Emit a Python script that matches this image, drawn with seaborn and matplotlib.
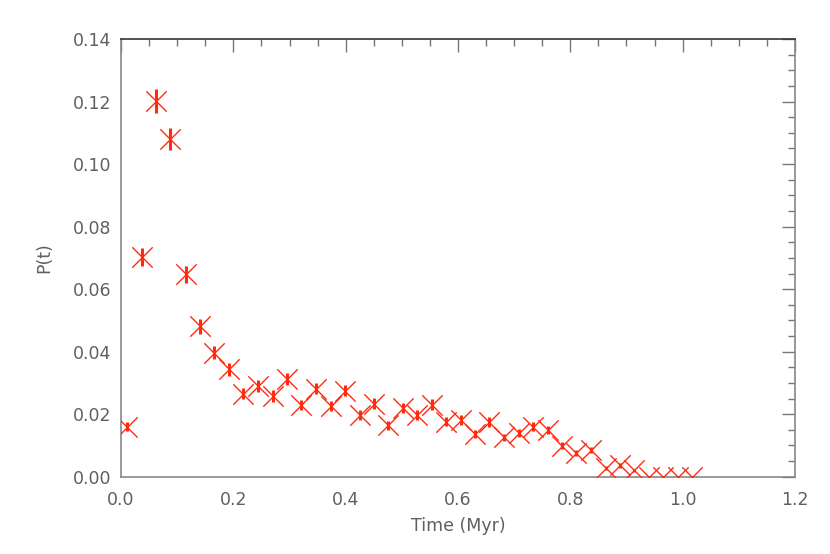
import matplotlib
matplotlib.use("Agg")
import matplotlib.pyplot as plt
import seaborn as sns
import pandas as pd
from matplotlib.ticker import MultipleLocator, FormatStrFormatter

# data
time_myr = [0.011, 0.037, 0.063, 0.088, 0.115, 0.141, 0.166, 0.193, 0.218, 0.244,
            0.270, 0.296, 0.321, 0.347, 0.373, 0.399, 0.425, 0.450, 0.476, 0.502,
            0.527, 0.553, 0.579, 0.605, 0.630, 0.656, 0.682, 0.708, 0.734, 0.760,
            0.785, 0.811, 0.837, 0.864, 0.889, 0.914, 0.940, 0.965, 0.992, 1.017]
prob = [0.0160, 0.0702, 0.1203, 0.1080, 0.0647, 0.0482, 0.0397, 0.0343, 0.0266, 0.0290,
        0.0258, 0.0312, 0.0229, 0.0282, 0.0226, 0.0275, 0.0199, 0.0234, 0.0165, 0.0220,
        0.0197, 0.0231, 0.0176, 0.0181, 0.0136, 0.0175, 0.0126, 0.0141, 0.0160, 0.0149,
        0.0099, 0.0075, 0.0085, 0.0029, 0.0036, 0.0020, 0.0, 0.0, 0.0, 0.0]
prob_err = [0.0014, 0.0029, 0.0038, 0.0036, 0.0028, 0.0024, 0.0022, 0.0020, 0.0018, 0.0019,
            0.0018, 0.0019, 0.0017, 0.0018, 0.0017, 0.0018, 0.0016, 0.0017, 0.0014, 0.0016,
            0.0015, 0.0017, 0.0015, 0.0015, 0.0013, 0.0015, 0.0012, 0.0013, 0.0014, 0.0013,
            0.0011, 0.0009, 0.0010, 0.0006, 0.0007, 0.0005, 0.0, 0.0, 0.0, 0.0]

df = pd.DataFrame({"time": time_myr, "p": prob, "err": prob_err})

sns.set_style("white")
plt.rcParams["font.family"] = ["DejaVu Sans"]

red = "#ff2a10"
grey = "#606060"

fig = plt.figure(figsize=(8.3, 5.54), dpi=100)
ax = fig.add_axes([0.1458, 0.1395, 0.812, 0.79])

ax.errorbar(df["time"], df["p"], yerr=df["err"], fmt="none",
            ecolor=red, elinewidth=2.2, capsize=0)
sns.scatterplot(data=df, x="time", y="p", marker="x", s=215,
                color=red, linewidth=1.0, ax=ax, zorder=3)

ax.set_xlim(0, 1.2)
ax.set_ylim(0, 0.14)
ax.xaxis.set_major_locator(MultipleLocator(0.2))
ax.xaxis.set_minor_locator(MultipleLocator(0.05))
ax.yaxis.set_major_locator(MultipleLocator(0.02))
ax.yaxis.set_minor_locator(MultipleLocator(0.005))
ax.xaxis.set_major_formatter(FormatStrFormatter("%.1f"))
ax.yaxis.set_major_formatter(FormatStrFormatter("%.2f"))

ax.tick_params(which="both", direction="in", top=True, right=True,
               color="#777777", labelcolor=grey, labelsize=12.5)
ax.tick_params(which="major", length=9.5, width=1)
ax.tick_params(which="minor", length=5, width=1)
ax.tick_params(axis="x", pad=10)
ax.tick_params(axis="y", pad=7)

for side in ["left", "right", "bottom"]:
    ax.spines[side].set_color("#888888")
ax.spines["top"].set_color("#333333")
for sp in ax.spines.values():
    sp.set_linewidth(1.2)

ax.set_xlabel("Time (Myr)", color=grey, fontsize=12.5, labelpad=6)
ax.set_ylabel("P(t)", color=grey, fontsize=12.5, labelpad=14)

fig.savefig("out.png", dpi=100)
